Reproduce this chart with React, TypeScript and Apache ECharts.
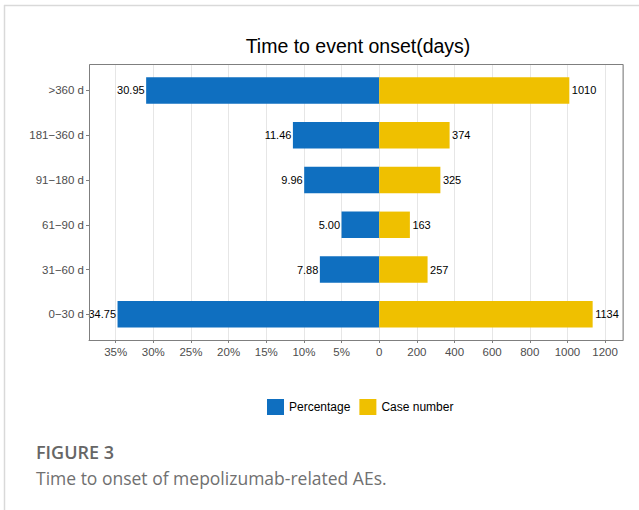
import React, { useEffect, useRef } from "react";
import * as echarts from "echarts";

const categories = ["0\u221230 d", "31\u221260 d", "61\u221290 d", "91\u2212180 d", "181\u2212360 d", ">360 d"];
const percentValues = [34.75, 7.88, 5.0, 9.96, 11.46, 30.95];
const caseValues = [1134, 257, 163, 325, 374, 1010];
const pctTicks = { min: 0, max: 38.54, interval: 5 };
const caseTicks = { min: 0, max: 1293.6, interval: 200 };

const BLUE = "#0F6FC0";
const YELLOW = "#EFC000";
const FONT = "Liberation Sans, Arial, Helvetica, sans-serif";

export default function App() {
  const ref = useRef<HTMLDivElement>(null);
  useEffect(() => {
    if (!ref.current) return;
    const chart = echarts.init(ref.current, undefined, { renderer: "svg" });
    const panelLeft = 89;
    const panelTop = 64;
    const panelH = 276;
    const zeroX = 379.2;
    const panelRight = 622.7;
    const barTop = 68.1;
    const barH = 268.6;

    const tickLabel = { color: "#4D4D4D", fontSize: 11.5, fontFamily: FONT, margin: 6 };
    const splitLine = { show: true, lineStyle: { color: "#E6E6E6", width: 1 } };
    const axisTick = { show: true, length: 3, lineStyle: { color: "#7F7F7F" } };
    const axisLine = { show: true, onZero: false, lineStyle: { color: "#7F7F7F" } };

    chart.setOption({
      animation: false,
      backgroundColor: "#fff",
      grid: [
        { left: panelLeft, top: panelTop, width: zeroX - panelLeft, height: panelH },
        { left: zeroX, top: panelTop, width: panelRight - zeroX, height: panelH },
        { left: panelLeft, top: barTop, width: zeroX - panelLeft, height: barH },
        { left: zeroX, top: barTop, width: panelRight - zeroX, height: barH },
      ],
      xAxis: [
        {
          type: "value", gridIndex: 0, inverse: true, ...pctTicks,
          axisLine, axisTick, splitLine,
          axisLabel: { ...tickLabel, showMinLabel: false, showMaxLabel: false, formatter: (v: number) => `${v}%` },
        },
        {
          type: "value", gridIndex: 1, ...caseTicks,
          axisLine, axisTick, splitLine,
          axisLabel: { ...tickLabel, showMaxLabel: false, formatter: (v: number) => String(v) },
        },
        { type: "value", gridIndex: 2, inverse: true, ...pctTicks, show: false },
        { type: "value", gridIndex: 3, ...caseTicks, show: false },
      ],
      yAxis: [
        { type: "value", gridIndex: 0, show: false, min: 0, max: 1 },
        { type: "value", gridIndex: 1, show: false, min: 0, max: 1 },
        {
          type: "category", gridIndex: 2, data: categories, position: "left",
          axisLine,
          axisTick: { show: true, alignWithLabel: true, length: 3, lineStyle: { color: "#7F7F7F" } },
          axisLabel: { ...tickLabel, margin: 5 },
          splitLine: { show: false },
        },
        { type: "category", gridIndex: 3, data: categories, show: false },
      ],
      legend: {
        left: 267, top: 399, padding: 0,
        itemWidth: 17, itemHeight: 16, itemGap: 9,
        icon: "rect",
        textStyle: { fontSize: 12, color: "#000", fontFamily: FONT },
        data: ["Percentage", "Case number"],
      },
      series: [
        {
          name: "Percentage", type: "bar", xAxisIndex: 2, yAxisIndex: 2,
          data: percentValues, barWidth: "59%",
          itemStyle: { color: BLUE },
          label: {
            show: true, position: "left", distance: 1.5, color: "#000", fontSize: 11, fontFamily: FONT,
            formatter: (p: any) => Number(p.value).toFixed(2),
          },
        },
        {
          name: "Case number", type: "bar", xAxisIndex: 3, yAxisIndex: 3,
          data: caseValues, barWidth: "59%",
          itemStyle: { color: YELLOW },
          label: { show: true, position: "right", distance: 2.5, color: "#000", fontSize: 11, fontFamily: FONT },
        },
      ],
      graphic: [
        { type: "line", z: 100, shape: { x1: 4, y1: 5.5, x2: 639, y2: 5.5 }, style: { stroke: "#D9D9D9", lineWidth: 1.5 } },
        { type: "line", z: 100, shape: { x1: 4.5, y1: 5, x2: 4.5, y2: 510 }, style: { stroke: "#D9D9D9", lineWidth: 1.5 } },
        {
          type: "rect", z: 100, silent: true,
          shape: { x: panelLeft + 0.5, y: panelTop + 0.5, width: panelRight - panelLeft, height: panelH },
          style: { fill: "none", stroke: "#7F7F7F", lineWidth: 1 },
        },
        {
          type: "text", x: 358, y: 46, z: 100,
          style: { text: "Time to event onset(days)", align: "center", verticalAlign: "middle", fontSize: 19.5, fontFamily: FONT, fill: "#000" },
        },
        {
          type: "text", x: 36, y: 452, z: 100,
          style: { text: "FIGURE 3", align: "left", verticalAlign: "middle", fontSize: 18, fontWeight: 600, fontFamily: "Open Sans, Noto Sans, sans-serif", fill: "#666666" },
        },
        {
          type: "text", x: 36, y: 477.5, z: 100,
          style: { text: "Time to onset of mepolizumab-related AEs.", align: "left", verticalAlign: "middle", fontSize: 17.5, fontFamily: "Open Sans, Noto Sans, sans-serif", fill: "#707070" },
        },
      ],
    });
    return () => chart.dispose();
  }, []);
  return (
    <div
      ref={ref}
      style={{ position: "absolute", left: 0, top: 0, width: 639, height: 510, background: "#fff" }}
    />
  );
}
